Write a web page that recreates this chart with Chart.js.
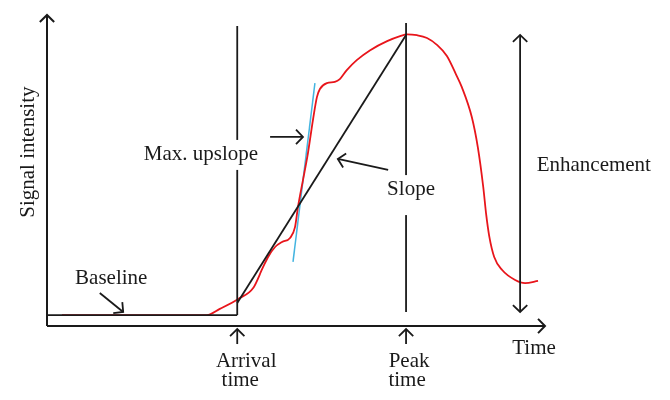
<!DOCTYPE html>
<html>
<head>
<meta charset="utf-8">
<script src="https://cdn.jsdelivr.net/npm/chart.js@4"></script>
<style>
  html, body { margin: 0; padding: 0; background: #fff; }
  canvas { display: block; }
</style>
</head>
<body>
<canvas id="chart" width="670" height="400"></canvas>
<script>
// time-intensity curve (time and signal in arbitrary units, axes run 0..100)
const curveTime = [3.0, 30.7, 32.1, 34.7, 38.4, 41.4, 43.4, 44.4, 45.8, 47.2, 48.8, 49.8, 50.4, 51.4,
  52.4, 53.4, 54.2, 54.8, 56.2, 57.8, 58.8, 60.2, 62.2, 64.9, 68.3, 70.9, 72.3, 74.3, 76.3, 78.3,
  80.3, 82.1, 83.3, 85.3, 86.5, 87.6, 88.2, 88.8, 89.8, 91.4, 94.0, 96.0, 98.6];
const curveSignal = [3.5, 3.5, 3.5, 5.5, 8.7, 12.2, 19.0, 22.2, 25.4, 27.0, 28.3, 31.8, 38.3, 46.9,
  55.6, 66.2, 73.6, 76.2, 78.1, 78.5, 79.4, 82.3, 85.5, 88.7, 91.6, 93.2, 93.8, 93.5, 92.6, 90.4,
  86.8, 81.0, 76.8, 67.2, 57.6, 44.7, 35.7, 28.9, 22.2, 18.0, 14.8, 13.8, 14.5];

const baselineLevel = 3.5;
const arrivalTime = 38.2;
const peakTime = 72.1;
const peakSignal = 93.6;
const enhancementTime = 95.0;

// straight reference lines
const slopeTime = [arrivalTime, peakTime];
const slopeSignal = [7.4, peakSignal];
const upslopeTime = [53.8, 49.4];
const upslopeSignal = [78.1, 20.6];

const labelTexts = ['Signal intensity', 'Max. upslope', 'Slope', 'Enhancement', 'Baseline',
  'Arrival', 'time', 'Peak', 'time', 'Time'];

const FONT = '21px "Liberation Serif", "DejaVu Serif", serif';
const INK = '#1a1a1a';

function pts(ts, ss) { return ts.map((t, i) => ({ x: t, y: ss[i] })); }

function line(data, opts) {
  return Object.assign({
    data: data, showLine: true, pointRadius: 0, borderColor: INK,
    borderWidth: 1.8, clip: false, tension: 0
  }, opts || {});
}

const datasets = [
  line(pts([0, 0], [0, 100]), { borderWidth: 2, arrow: 'end' }),
  line(pts([0, 100], [0, 0]), { borderWidth: 2, arrow: 'end' }),
  line(pts([0, arrivalTime], [baselineLevel, baselineLevel])),
  line(pts([arrivalTime, arrivalTime], [baselineLevel, 96.5])),
  line(pts([peakTime, peakTime], [4.5, 97.4])),
  line(pts(slopeTime, slopeSignal)),
  line(pts([enhancementTime, enhancementTime], [4.5, peakSignal]), { arrow: 'both' }),
  line(pts([arrivalTime, arrivalTime], [-5.8, -1.0]), { arrow: 'end' }),
  line(pts([peakTime, peakTime], [-5.8, -1.0]), { arrow: 'end' }),
  line(pts([44.8, 51.4], [60.8, 60.8]), { arrow: 'end' }),
  line(pts([68.5, 58.4], [50.2, 53.7]), { arrow: 'end' }),
  line(pts([10.6, 15.3], [10.6, 4.5]), { arrow: 'end' }),
  line(pts(curveTime, curveSignal), { borderColor: '#e8151b', borderWidth: 1.8, cubicInterpolationMode: 'monotone' }),
  line(pts(upslopeTime, upslopeSignal), { borderColor: '#43b4e0', borderWidth: 1.5 })
];

// label anchors: [time, signal(baseline)], plus optional white box (px above / below baseline)
const labelPlaces = [
  { t: -3.8, s: 55.9, rotate: true },
  { t: 30.9, s: 53.4, box: [20, 10] },
  { t: 73.1, s: 42.1, box: [20, 20] },
  { t: 109.8, s: 49.8 },
  { t: 12.9, s: 13.5 },
  { t: 40.0, s: -13.2 },
  { t: 38.8, s: -19.3 },
  { t: 72.7, s: -13.2 },
  { t: 72.3, s: -19.3 },
  { t: 97.8, s: -9.0 }
];

function head(ctx, tip, from) {
  const a = Math.atan2(tip.y - from.y, tip.x - from.x);
  const size = 10, spread = 0.8;
  ctx.beginPath();
  ctx.moveTo(tip.x - size * Math.cos(a - spread), tip.y - size * Math.sin(a - spread));
  ctx.lineTo(tip.x, tip.y);
  ctx.lineTo(tip.x - size * Math.cos(a + spread), tip.y - size * Math.sin(a + spread));
  ctx.stroke();
}

const arrows = {
  id: 'arrows',
  afterDatasetsDraw(chart) {
    const ctx = chart.ctx;
    chart.data.datasets.forEach((ds, i) => {
      if (!ds.arrow) return;
      const p = chart.getDatasetMeta(i).data;
      ctx.save();
      ctx.strokeStyle = ds.borderColor;
      ctx.lineWidth = ds.borderWidth;
      ctx.lineJoin = 'miter';
      if (ds.arrow === 'end' || ds.arrow === 'both') head(ctx, p[p.length - 1], p[p.length - 2]);
      if (ds.arrow === 'both') head(ctx, p[0], p[1]);
      ctx.restore();
    });
  }
};

const labels = {
  id: 'labels',
  afterDraw(chart) {
    const ctx = chart.ctx;
    const xs = chart.scales.x, ys = chart.scales.y;
    ctx.save();
    ctx.font = FONT;
    ctx.fillStyle = INK;
    labelPlaces.forEach((pl, i) => {
      const txt = labelTexts[i];
      const x = xs.getPixelForValue(pl.t);
      const y = ys.getPixelForValue(pl.s);
      if (pl.rotate) {
        ctx.save();
        ctx.translate(x, y);
        ctx.rotate(-Math.PI / 2);
        ctx.textAlign = 'center';
        ctx.textBaseline = 'middle';
        ctx.fillText(txt, 0, 0);
        ctx.restore();
        return;
      }
      const w = ctx.measureText(txt).width;
      if (pl.box) {
        ctx.fillStyle = '#fff';
        ctx.fillRect(x - w / 2 - 3, y - pl.box[0], w + 6, pl.box[0] + pl.box[1]);
        ctx.fillStyle = INK;
      }
      ctx.textAlign = 'center';
      ctx.textBaseline = 'alphabetic';
      ctx.fillText(txt, x, y);
    });
    ctx.restore();
  }
};

new Chart(document.getElementById('chart'), {
  type: 'scatter',
  data: { datasets: datasets },
  options: {
    responsive: false,
    animation: false,
    layout: { padding: { left: 47, right: 125, top: 15, bottom: 74 } },
    plugins: { legend: { display: false }, tooltip: { enabled: false } },
    scales: {
      x: { type: 'linear', min: 0, max: 100, display: false },
      y: { type: 'linear', min: 0, max: 100, display: false }
    }
  },
  plugins: [arrows, labels]
});
</script>
</body>
</html>
